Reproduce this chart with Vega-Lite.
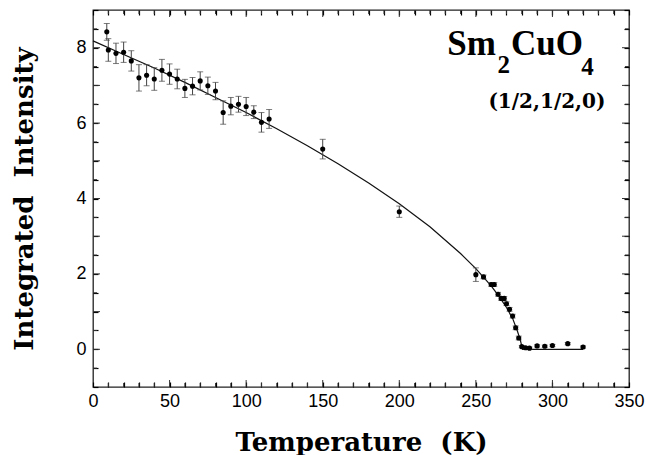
{
  "$schema": "https://vega.github.io/schema/vega-lite/v6.json",
  "width": 536,
  "height": 377,
  "autosize": {"type": "none"},
  "padding": {"left": 93, "top": 10, "right": 17, "bottom": 68},
  "background": "white",
  "view": {"stroke": "#222", "strokeWidth": 1.3},
  "datasets": {
    "pts": [
      {"T": 9, "I": 8.42, "E": 0.22},
      {"T": 10, "I": 7.94, "E": 0.30},
      {"T": 15, "I": 7.85, "E": 0.27},
      {"T": 20, "I": 7.88, "E": 0.27},
      {"T": 25, "I": 7.65, "E": 0.27},
      {"T": 30, "I": 7.20, "E": 0.35},
      {"T": 35, "I": 7.27, "E": 0.28},
      {"T": 40, "I": 7.17, "E": 0.30},
      {"T": 45, "I": 7.40, "E": 0.29},
      {"T": 50, "I": 7.30, "E": 0.27},
      {"T": 55, "I": 7.17, "E": 0.26},
      {"T": 60, "I": 6.92, "E": 0.24},
      {"T": 65, "I": 6.98, "E": 0.23},
      {"T": 70, "I": 7.12, "E": 0.24},
      {"T": 75, "I": 6.99, "E": 0.23},
      {"T": 80, "I": 6.85, "E": 0.23},
      {"T": 85, "I": 6.28, "E": 0.31},
      {"T": 90, "I": 6.45, "E": 0.23},
      {"T": 95, "I": 6.50, "E": 0.21},
      {"T": 100, "I": 6.44, "E": 0.24},
      {"T": 105, "I": 6.29, "E": 0.17},
      {"T": 110, "I": 6.02, "E": 0.26},
      {"T": 115, "I": 6.11, "E": 0.25},
      {"T": 150, "I": 5.31, "E": 0.26},
      {"T": 200, "I": 3.65, "E": 0.15},
      {"T": 250, "I": 1.98, "E": 0.18},
      {"T": 255, "I": 1.92, "E": 0.05},
      {"T": 260, "I": 1.72, "E": 0.05},
      {"T": 262, "I": 1.72, "E": 0.05},
      {"T": 264.5, "I": 1.46, "E": 0.05},
      {"T": 266.5, "I": 1.35, "E": 0.05},
      {"T": 268.5, "I": 1.35, "E": 0.05},
      {"T": 270, "I": 1.21, "E": 0.05},
      {"T": 272, "I": 1.06, "E": 0.05},
      {"T": 274, "I": 0.88, "E": 0.05},
      {"T": 276, "I": 0.57, "E": 0.05},
      {"T": 278, "I": 0.30, "E": 0.05},
      {"T": 280, "I": 0.07, "E": 0.03},
      {"T": 282.5, "I": 0.04, "E": 0.03},
      {"T": 285, "I": 0.03, "E": 0.03},
      {"T": 290, "I": 0.09, "E": 0.03},
      {"T": 295, "I": 0.08, "E": 0.03},
      {"T": 300, "I": 0.10, "E": 0.03},
      {"T": 310, "I": 0.15, "E": 0.03},
      {"T": 320, "I": 0.06, "E": 0.03}
    ],
    "fit": [
      {"T": 0, "I": 8.18},
      {"T": 20, "I": 7.82},
      {"T": 40, "I": 7.46},
      {"T": 60, "I": 7.08},
      {"T": 80, "I": 6.68},
      {"T": 100, "I": 6.28},
      {"T": 120, "I": 5.85},
      {"T": 140, "I": 5.40},
      {"T": 160, "I": 4.92},
      {"T": 180, "I": 4.41},
      {"T": 200, "I": 3.86},
      {"T": 220, "I": 3.25},
      {"T": 240, "I": 2.54},
      {"T": 250, "I": 2.14},
      {"T": 260, "I": 1.68},
      {"T": 265, "I": 1.41},
      {"T": 270, "I": 1.11},
      {"T": 274, "I": 0.82},
      {"T": 277, "I": 0.50},
      {"T": 279, "I": 0.25},
      {"T": 280.5, "I": 0.0},
      {"T": 320, "I": 0.0}
    ],
    "xticks": [
      {"T": 10, "k": "minor"}, {"T": 20, "k": "minor"}, {"T": 30, "k": "minor"}, {"T": 40, "k": "minor"}, {"T": 50, "k": "major"},
      {"T": 60, "k": "minor"}, {"T": 70, "k": "minor"}, {"T": 80, "k": "minor"}, {"T": 90, "k": "minor"}, {"T": 100, "k": "major"},
      {"T": 110, "k": "minor"}, {"T": 120, "k": "minor"}, {"T": 130, "k": "minor"}, {"T": 140, "k": "minor"}, {"T": 150, "k": "major"},
      {"T": 160, "k": "minor"}, {"T": 170, "k": "minor"}, {"T": 180, "k": "minor"}, {"T": 190, "k": "minor"}, {"T": 200, "k": "major"},
      {"T": 210, "k": "minor"}, {"T": 220, "k": "minor"}, {"T": 230, "k": "minor"}, {"T": 240, "k": "minor"}, {"T": 250, "k": "major"},
      {"T": 260, "k": "minor"}, {"T": 270, "k": "minor"}, {"T": 280, "k": "minor"}, {"T": 290, "k": "minor"}, {"T": 300, "k": "major"},
      {"T": 310, "k": "minor"}, {"T": 320, "k": "minor"}, {"T": 330, "k": "minor"}, {"T": 340, "k": "minor"}
    ],
    "yticks": [
      {"I": -0.5, "k": "minor"}, {"I": 0, "k": "major"}, {"I": 0.5, "k": "minor"}, {"I": 1, "k": "major"},
      {"I": 1.5, "k": "minor"}, {"I": 2, "k": "major"}, {"I": 2.5, "k": "minor"}, {"I": 3, "k": "major"},
      {"I": 3.5, "k": "minor"}, {"I": 4, "k": "major"}, {"I": 4.5, "k": "minor"}, {"I": 5, "k": "major"},
      {"I": 5.5, "k": "minor"}, {"I": 6, "k": "major"}, {"I": 6.5, "k": "minor"}, {"I": 7, "k": "major"},
      {"I": 7.5, "k": "minor"}, {"I": 8, "k": "major"}, {"I": 8.5, "k": "minor"}
    ]
  },
  "layer": [
    {
      "data": {"name": "fit"},
      "mark": {"type": "line", "color": "#111", "strokeWidth": 1.2},
      "encoding": {
        "x": {
          "field": "T", "type": "quantitative",
          "scale": {"domain": [0, 350], "nice": false, "zero": false},
          "axis": {
            "orient": "bottom",
            "title": "Temperature\u00a0 (K)",
            "titleFont": "DejaVu Serif", "titleFontWeight": "bold", "titleFontSize": 26, "titleColor": "#000",
            "titlePadding": 19,
            "values": [0,10,20,30,40,50,60,70,80,90,100,110,120,130,140,150,160,170,180,190,200,210,220,230,240,250,260,270,280,290,300,310,320,330,340,350],
            "labelExpr": "datum.value % 50 === 0 ? datum.label : ''",
            "labelFont": "Liberation Sans", "labelFontSize": 18, "labelColor": "#000",
            "labelPadding": 5, "labelFlush": false, "labelOverlap": false,
            "domain": false, "grid": false, "ticks": true,
            "tickColor": "#000", "tickSize": 5, "tickWidth": 1.2, "offset": -5
          }
        },
        "y": {
          "field": "I", "type": "quantitative",
          "scale": {"domain": [-1, 9], "nice": false, "zero": false},
          "axis": {
            "orient": "left",
            "title": "Integrated\u00a0 Intensity",
            "titleFont": "DejaVu Serif", "titleFontWeight": "bold", "titleFontSize": 26, "titleColor": "#000",
            "titlePadding": 38,
            "values": [-1,-0.5,0,0.5,1,1.5,2,2.5,3,3.5,4,4.5,5,5.5,6,6.5,7,7.5,8,8.5,9],
            "labelExpr": "datum.value % 2 === 0 && datum.value >= 0 && datum.value <= 8 ? format(datum.value, 'd') : ''",
            "labelFont": "Liberation Sans", "labelFontSize": 18, "labelColor": "#000",
            "labelPadding": 7, "labelFlush": false, "labelOverlap": false,
            "domain": false, "grid": false, "ticks": true,
            "tickColor": "#000", "tickSize": 5, "tickWidth": 1.2, "offset": -5
          }
        }
      }
    },
    {
      "data": {"name": "pts"},
      "mark": {"type": "errorbar", "color": "#444", "ticks": {"size": 6, "color": "#444"}, "thickness": 1},
      "encoding": {
        "x": {
          "field": "T", "type": "quantitative",
          "axis": {
            "orient": "top", "title": null, "labels": false, "domain": false, "grid": false, "ticks": true,
            "values": [0,10,20,30,40,50,60,70,80,90,100,110,120,130,140,150,160,170,180,190,200,210,220,230,240,250,260,270,280,290,300,310,320,330,340,350],
            "tickColor": "#000", "tickSize": 5, "tickWidth": 1.2, "offset": -5
          }
        },
        "y": {
          "field": "I", "type": "quantitative",
          "axis": {
            "orient": "right", "title": null, "labels": false, "domain": false, "grid": false, "ticks": true,
            "values": [-1,-0.5,0,0.5,1,1.5,2,2.5,3,3.5,4,4.5,5,5.5,6,6.5,7,7.5,8,8.5,9],
            "tickColor": "#000", "tickSize": 5, "tickWidth": 1.2, "offset": -5
          }
        },
        "yError": {"field": "E"}
      }
    },
    {
      "data": {"name": "xticks"},
      "mark": {"type": "tick", "orient": "vertical", "color": "#333", "thickness": 1, "clip": true, "opacity": 1},
      "encoding": {
        "x": {"field": "T", "type": "quantitative", "axis": null},
        "y": {"datum": -1, "type": "quantitative", "axis": null},
        "size": {"field": "k", "type": "ordinal", "scale": {"domain": ["major", "minor"], "range": [14, 8]}, "legend": null}
      }
    },
    {
      "data": {"name": "xticks"},
      "mark": {"type": "tick", "orient": "vertical", "color": "#333", "thickness": 1, "clip": true, "opacity": 1},
      "encoding": {
        "x": {"field": "T", "type": "quantitative", "axis": null},
        "y": {"datum": 9, "type": "quantitative", "axis": null},
        "size": {"field": "k", "type": "ordinal", "scale": {"domain": ["major", "minor"], "range": [14, 8]}, "legend": null}
      }
    },
    {
      "data": {"name": "yticks"},
      "mark": {"type": "tick", "orient": "horizontal", "color": "#333", "thickness": 1, "clip": true, "opacity": 1},
      "encoding": {
        "y": {"field": "I", "type": "quantitative", "axis": null},
        "x": {"datum": 0, "type": "quantitative", "axis": null},
        "size": {"field": "k", "type": "ordinal", "scale": {"domain": ["major", "minor"], "range": [14, 8]}, "legend": null}
      }
    },
    {
      "data": {"name": "yticks"},
      "mark": {"type": "tick", "orient": "horizontal", "color": "#333", "thickness": 1, "clip": true, "opacity": 1},
      "encoding": {
        "y": {"field": "I", "type": "quantitative", "axis": null},
        "x": {"datum": 350, "type": "quantitative", "axis": null},
        "size": {"field": "k", "type": "ordinal", "scale": {"domain": ["major", "minor"], "range": [14, 8]}, "legend": null}
      }
    },
    {
      "data": {"name": "pts"},
      "mark": {"type": "circle", "color": "#000", "opacity": 1, "size": 26},
      "encoding": {
        "x": {"field": "T", "type": "quantitative", "axis": null},
        "y": {"field": "I", "type": "quantitative", "axis": null}
      }
    },
    {
      "data": {"values": [{"t": "Sm"}]},
      "mark": {"type": "text", "font": "Liberation Serif", "fontWeight": "bold", "fontSize": 35, "align": "right", "baseline": "alphabetic", "color": "#000"},
      "encoding": {
        "text": {"field": "t"},
        "x": {"datum": 263.1, "type": "quantitative", "axis": null},
        "y": {"datum": 7.8, "type": "quantitative", "axis": null}
      }
    },
    {
      "data": {"values": [{"t": "2"}]},
      "mark": {"type": "text", "font": "Liberation Serif", "fontWeight": "bold", "fontSize": 25, "align": "left", "baseline": "alphabetic", "color": "#000"},
      "encoding": {
        "text": {"field": "t"},
        "x": {"datum": 264.1, "type": "quantitative", "axis": null},
        "y": {"datum": 7.33, "type": "quantitative", "axis": null}
      }
    },
    {
      "data": {"values": [{"t": "CuO"}]},
      "mark": {"type": "text", "font": "Liberation Serif", "fontWeight": "bold", "fontSize": 35, "align": "left", "baseline": "alphabetic", "color": "#000"},
      "encoding": {
        "text": {"field": "t"},
        "x": {"datum": 272.9, "type": "quantitative", "axis": null},
        "y": {"datum": 7.8, "type": "quantitative", "axis": null}
      }
    },
    {
      "data": {"values": [{"t": "4"}]},
      "mark": {"type": "text", "font": "Liberation Serif", "fontWeight": "bold", "fontSize": 25, "align": "left", "baseline": "alphabetic", "color": "#000"},
      "encoding": {
        "text": {"field": "t"},
        "x": {"datum": 318.9, "type": "quantitative", "axis": null},
        "y": {"datum": 7.27, "type": "quantitative", "axis": null}
      }
    },
    {
      "data": {"values": [{"t": "(1/2,1/2,0)"}]},
      "mark": {"type": "text", "font": "DejaVu Serif", "fontWeight": "bold", "fontSize": 20, "align": "center", "baseline": "alphabetic", "color": "#000"},
      "encoding": {
        "text": {"field": "t"},
        "x": {"datum": 296.4, "type": "quantitative", "axis": null},
        "y": {"datum": 6.39, "type": "quantitative", "axis": null}
      }
    }
  ]
}
